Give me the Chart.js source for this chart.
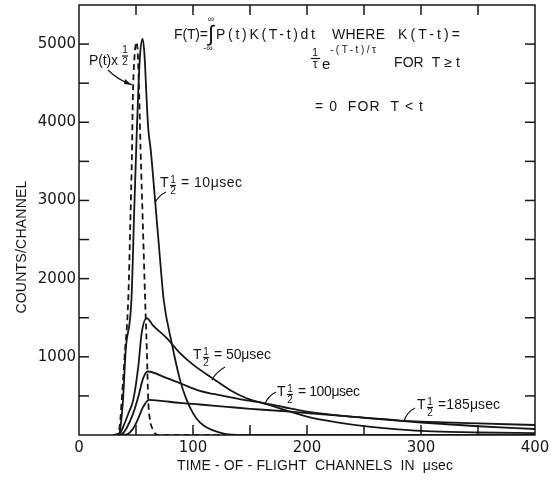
<!DOCTYPE html>
<html>
<head>
<meta charset="utf-8">
<script src="https://cdn.jsdelivr.net/npm/chart.js@4.4.0/dist/chart.umd.min.js"></script>
<style>
html, body { margin: 0; padding: 0; background: #fff; }
#contenedor { width: 551px; height: 481px; }
</style>
</head>
<body>
<div id="contenedor"><canvas id="grafica" width="551" height="481"></canvas></div>
<script>
// valores: canal (usec) y cuentas/canal
var pulsoT = [30, 34, 36, 37.5, 40, 43.2, 45, 46.5, 47.2, 48.5, 50.5, 51.5, 52.9, 54, 56, 58, 59.5, 60.7, 62, 65, 69, 400];
var pulsoV = [0, 0, 150, 450, 1000, 1730, 2700, 3650, 4300, 4800, 5025, 4900, 4300, 3650, 2700, 1730, 1090, 450, 220, 64, 0, 0];

var t10T = [30, 34, 36, 38.6, 41, 46, 48.5, 50.5, 52, 53.5, 55.8, 57.5, 59.3, 60.8, 62.9, 66.7, 70.4, 74.3, 81.3, 88.6, 94.4, 100, 106, 113, 120.8, 128, 135, 150, 400];
var t10V = [0, 0, 60, 450, 1090, 1730, 2900, 3800, 4400, 4850, 5065, 4850, 4300, 3910, 3650, 3010, 2370, 1730, 1180, 705, 450, 280, 160, 90, 42, 15, 5, 0, 0];

var t50T = [30, 36, 40, 44, 47.6, 52, 55, 59.3, 65, 77, 88.6, 100, 117.8, 132, 147, 164.6, 185, 202.6, 225, 252, 280, 310, 350, 400];
var t50V = [0, 25, 150, 300, 450, 875, 1305, 1496, 1400, 1240, 1047, 900, 720, 580, 470, 395, 300, 225, 165, 110, 72, 46, 32, 25];

var t100T = [30, 37.5, 41.8, 47.6, 52, 56.4, 60.2, 77, 88.6, 106, 118, 140, 162, 180, 200, 225, 250, 282, 300, 350, 400];
var t100V = [0, 13, 90, 280, 490, 730, 812, 727, 662, 565, 525, 462, 408, 355, 300, 255, 220, 180, 160, 112, 77];

var t185T = [30, 42, 47.6, 52, 56.4, 61.4, 70, 88.6, 106, 130, 150, 165, 185, 200, 225, 250, 282, 300, 350, 400];
var t185V = [0, 9, 86, 214, 363, 450, 440, 410, 390, 360, 335, 320, 298, 280, 250, 222, 185, 172, 148, 128];

var etiquetasY = [1000, 2000, 3000, 4000, 5000];
var marcasX = [50, 100, 150, 200, 250, 300, 350];
var marcasY = [500, 1000, 1500, 2000, 2500, 3000, 3500, 4000, 4500, 5000];

var tinta = '#161616';

function puntos(xs, ys) {
    return xs.map(function(x, i) { return { x: x, y: ys[i] }; });
}

function serie(xs, ys, discontinua) {
    return {
        data: puntos(xs, ys),
        borderColor: tinta,
        borderWidth: 1.8,
        borderDash: discontinua ? [6, 4] : [],
        pointRadius: 0,
        fill: false,
        tension: 0.4,
        cubicInterpolationMode: 'monotone'
    };
}

function linea(c, x1, y1, x2, y2) {
    c.beginPath(); c.moveTo(x1, y1); c.lineTo(x2, y2); c.stroke();
}

// texto con espaciado ajustado al ancho medido en la figura
function texto(c, s, x, y, size, ancho, align, familia) {
    c.font = size + 'px ' + (familia || '"Liberation Sans"');
    c.textAlign = align || 'left';
    c.letterSpacing = '0px';
    if (ancho) {
        var w = c.measureText(s).width;
        c.letterSpacing = ((ancho - w) / Math.max(1, s.length - 1)) + 'px';
    }
    c.fillText(s, x, y);
    c.letterSpacing = '0px';
    c.textAlign = 'left';
}

function medio(c, x, y) {
    texto(c, '1', x, y - 3, 10, 0, 'center');
    linea(c, x - 3, y + 2.5, x + 3, y + 2.5);
    texto(c, '2', x, y + 8, 10, 0, 'center');
}

function etiquetaT(c, x, y, resto, ancho) {
    texto(c, 'T', x, y, 14);
    medio(c, x + 13, y);
    texto(c, resto, x + 21, y, 14, ancho);
}

var decorado = {
    id: 'decorado',
    afterDraw: function(chart) {
        var c = chart.ctx, a = chart.chartArea, sx = chart.scales.x, sy = chart.scales.y;
        c.save();
        c.strokeStyle = tinta;
        c.fillStyle = tinta;
        c.lineWidth = 1.5;
        c.strokeRect(a.left, a.top, a.right - a.left, a.bottom - a.top);
        marcasX.forEach(function(v) {
            var px = sx.getPixelForValue(v);
            linea(c, px, a.bottom, px, a.bottom - 10);
            linea(c, px, a.top, px, a.top + 10);
        });
        marcasY.forEach(function(v) {
            var py = sy.getPixelForValue(v);
            linea(c, a.left, py, a.left + 10, py);
            linea(c, a.right, py, a.right - 10, py);
        });

        c.textBaseline = 'middle';
        etiquetasY.forEach(function(v) {
            texto(c, String(v), a.left - 3, sy.getPixelForValue(v), 15, 0, 'right', '"DejaVu Sans"');
        });

        c.lineWidth = 1.2;

        // formula
        texto(c, 'F(T)=', 174, 35, 14, 34);
        c.font = '22px "Liberation Sans"';
        c.fillText('\u222B', 208, 35);
        texto(c, '\u221E', 211, 20, 9, 0, 'center');
        texto(c, '-\u221E', 208, 49, 9, 0, 'center');
        texto(c, 'P(t)K(T-t)dt', 216, 35, 14, 99);
        texto(c, 'WHERE', 332, 35, 14, 53);
        texto(c, 'K(T-t)=', 398, 35, 14, 62);

        texto(c, '1', 315, 53, 11, 0, 'center');
        linea(c, 311, 58.5, 320, 58.5);
        texto(c, '\u03C4', 315, 65, 12, 0, 'center');
        texto(c, 'e', 322, 65, 15);
        texto(c, '-(T-t)/\u03C4', 330, 50, 10, 46);
        texto(c, 'FOR  T \u2265 t', 394, 63, 14, 66);
        texto(c, '= 0  FOR  T < t', 315, 107, 14, 108);

        // P(t) x 1/2
        texto(c, 'P(t)x', 89, 61, 14, 29);
        texto(c, '1', 125, 50, 10, 0, 'center');
        linea(c, 122, 56, 128, 56);
        texto(c, '2', 125, 62, 10, 0, 'center');
        c.beginPath(); c.moveTo(108, 70); c.quadraticCurveTo(118, 80, 132, 85); c.stroke();
        c.beginPath(); c.moveTo(132, 85); c.lineTo(125, 79); c.lineTo(124, 84); c.closePath(); c.fill();

        // etiquetas de curvas
        etiquetaT(c, 160, 183, '= 10\u03BCsec', 61);
        c.beginPath(); c.moveTo(166, 192); c.quadraticCurveTo(158, 196, 155, 203); c.stroke();
        etiquetaT(c, 193, 355, '= 50\u03BCsec', 57);
        c.beginPath(); c.moveTo(225, 367); c.quadraticCurveTo(216, 372, 212, 380); c.stroke();
        etiquetaT(c, 277, 392, '= 100\u03BCsec', 62);
        c.beginPath(); c.moveTo(276, 392); c.quadraticCurveTo(268, 396, 265, 404); c.stroke();
        etiquetaT(c, 417, 405, '=185\u03BCsec', 62);
        c.beginPath(); c.moveTo(415, 408); c.quadraticCurveTo(407, 412, 404, 421); c.stroke();

        // titulos de ejes
        texto(c, 'TIME - OF - FLIGHT  CHANNELS  IN  \u03BCsec', 177, 466, 14, 276);
        c.translate(22, 247);
        c.rotate(-Math.PI / 2);
        texto(c, 'COUNTS/CHANNEL', 0, 0, 14, 133, 'center');
        c.restore();
    }
};

new Chart(document.getElementById('grafica'), {
    type: 'line',
    data: {
        datasets: [
            serie(pulsoT, pulsoV, true),
            serie(t10T, t10V, false),
            serie(t50T, t50V, false),
            serie(t100T, t100V, false),
            serie(t185T, t185V, false)
        ]
    },
    options: {
        responsive: false,
        animation: false,
        layout: { padding: { top: 5, right: 16, left: 0, bottom: 0 } },
        plugins: { legend: { display: false }, tooltip: { enabled: false } },
        scales: {
            x: {
                type: 'linear', min: 0, max: 400,
                grid: { display: false },
                border: { display: false },
                ticks: { stepSize: 100, color: tinta, font: { family: 'DejaVu Sans', size: 15 }, padding: -4, maxRotation: 0 },
                afterFit: function(s) { s.height = 46; }
            },
            y: {
                type: 'linear', min: 0, max: 5500,
                grid: { display: false },
                border: { display: false },
                ticks: { display: false, stepSize: 1000 },
                afterFit: function(s) { s.width = 79; }
            }
        }
    },
    plugins: [decorado]
});
</script>
</body>
</html>
